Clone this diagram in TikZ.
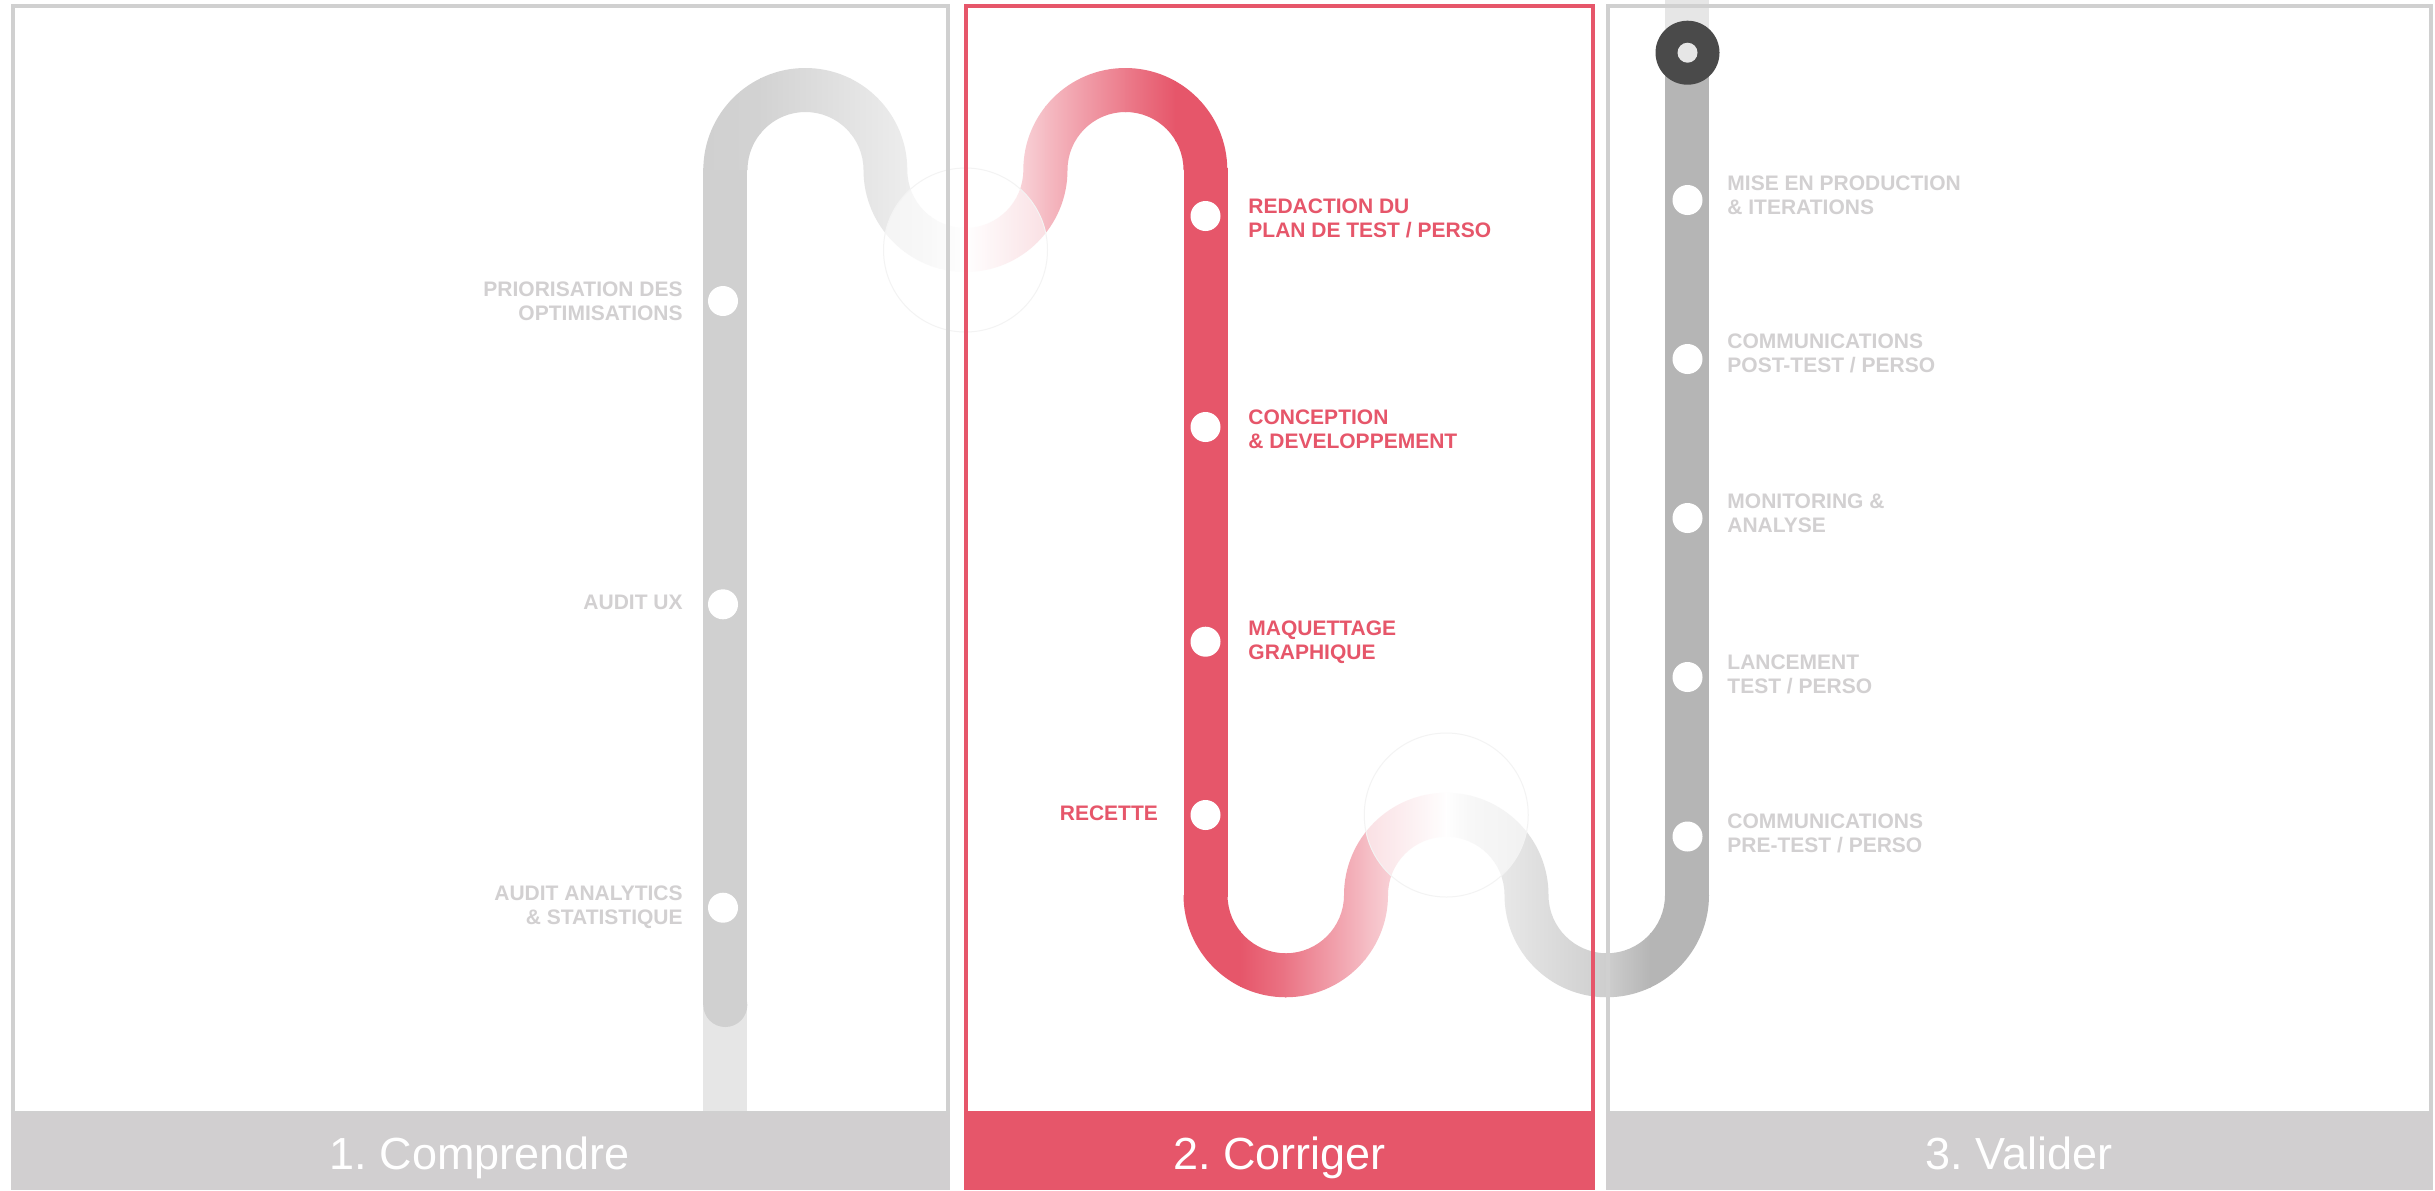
\documentclass[tikz,border=0pt]{standalone}
\usepackage{fontspec}
\setmainfont{Liberation Sans}
\frenchspacing
\definecolor{cred}{HTML}{E6566A}
\definecolor{cgray}{HTML}{D0D0D0}
\definecolor{cdark}{HTML}{B5B5B5}
\definecolor{clight}{HTML}{E6E6E6}
\definecolor{cbar}{HTML}{D1CFD0}
\definecolor{cring}{HTML}{4A4A4A}
\definecolor{clabel}{HTML}{D2D0D1}
\definecolor{cfaint}{HTML}{F3F3F3}
\begin{document}
\begin{tikzpicture}[x=0.5pt,y=0.5pt,
  dot/.style={circle,fill=white,inner sep=0pt,minimum size=15pt},
  lab/.style={inner sep=0pt,font=\fontsize{10.5}{12}\selectfont\bfseries},
  graylab/.style={lab,text=clabel},
  redlab/.style={lab,text=cred},
  bartext/.style={text=white,font=\fontsize{22.5}{27}\selectfont,anchor=base,inner sep=0pt},
  frame/.style={line width=2pt},
  overlay/.style={fill=white,fill opacity=0.55,draw=cfaint,line width=0.5pt}]
\useasboundingbox (0,0) rectangle (2435,-1190);
\fill[white] (0,0) rectangle (2435,-1190);

% ---- panel 1 straight road
\fill[clight] (703.3,-990) rectangle (747.3,-1113);
\fill[cgray] (703.3,-168) rectangle (747.3,-1005);
\fill[cgray] (725.3,-1005) circle (22);

% ---- top S route (gradient)
\path[save path=\toppath] (703.3,-170)
  arc[start angle=180,end angle=0,radius=102]
  arc[start angle=180,end angle=360,radius=58]
  arc[start angle=180,end angle=0,radius=102]
  -- (1183.5,-170)
  arc[start angle=0,end angle=180,radius=58]
  arc[start angle=360,end angle=180,radius=102]
  arc[start angle=0,end angle=180,radius=58]
  -- cycle;
\begin{scope}
  \clip[use path=\toppath];
  \shade[left color=cgray,right color=cgray!95!white] (700,-60) rectangle (761,-290);
  \shade[left color=cgray!95!white,right color=cgray!60!white] (760,-60) rectangle (851,-290);
  \shade[left color=cgray!60!white,right color=cgray!30!white] (850,-60) rectangle (931,-290);
  \shade[left color=cgray!30!white,right color=white] (930,-60) rectangle (966,-290);
  \shade[left color=white,right color=cred!17!white] (965,-60) rectangle (1001,-290);
  \shade[left color=cred!17!white,right color=cred!40!white] (1000,-60) rectangle (1046,-290);
  \shade[left color=cred!40!white,right color=cred!78!white] (1045,-60) rectangle (1126,-290);
  \shade[left color=cred!78!white,right color=cred] (1125,-60) rectangle (1176,-290);
  \fill[cred] (1175,-60) rectangle (1230,-290);
\end{scope}

% ---- red straight road
\fill[cred] (1183.5,-168) rectangle (1227.5,-897);

% ---- bottom route (gradient)
\path[save path=\botpath] (1183.5,-895)
  arc[start angle=180,end angle=360,radius=102.25]
  arc[start angle=180,end angle=0,radius=58.25]
  arc[start angle=180,end angle=360,radius=102.25]
  -- (1665,-895)
  arc[start angle=0,end angle=-180,radius=58.25]
  arc[start angle=0,end angle=180,radius=102.25]
  arc[start angle=0,end angle=-180,radius=58.25]
  -- cycle;
\begin{scope}
  \clip[use path=\botpath];
  \fill[cred] (1180,-780) rectangle (1241,-1010);
  \shade[left color=cred,right color=cred!82!white] (1240,-780) rectangle (1286,-1010);
  \shade[left color=cred!82!white,right color=cred!40!white] (1285,-780) rectangle (1366,-1010);
  \shade[left color=cred!40!white,right color=cred!14!white] (1365,-780) rectangle (1421,-1010);
  \shade[left color=cred!14!white,right color=white] (1420,-780) rectangle (1447,-1010);
  \shade[left color=white,right color=cgray!35!white] (1446,-780) rectangle (1471,-1010);
  \shade[left color=cgray!35!white,right color=cgray!62!white] (1470,-780) rectangle (1527,-1010);
  \shade[left color=cgray!62!white,right color=cgray!90!cdark] (1526,-780) rectangle (1608,-1010);
  \shade[left color=cgray!90!cdark,right color=cdark] (1607,-780) rectangle (1651,-1010);
  \fill[cdark] (1650,-780) rectangle (1712,-1010);
\end{scope}

% ---- panel 3 straight road
\fill[clight] (1665,0) rectangle (1709,-53);
\fill[cdark] (1665,-52) rectangle (1709,-897);

% ---- faint overlay circles
\path[overlay] (965.5,-250) circle (82);
\path[overlay] (1446.25,-815) circle (82);

% ---- panel frames
\draw[frame,cgray] (12.5,-5.5) rectangle (948,-1113);
\draw[frame,cred] (965.8,-5.5) rectangle (1593,-1113);
\draw[frame,cgray] (1607.5,-5.5) rectangle (2431,-1113);

% ---- bottom bars
\fill[cbar] (10.5,-1113) rectangle (950,-1190);
\fill[cred] (964,-1113) rectangle (1595,-1190);
\fill[cbar] (1605.5,-1113) rectangle (2433,-1190);
\node[bartext] (t1) at (480,-1169) {1. Comprendre};
\node[bartext] (t2) at (1279.5,-1169) {2. Corriger};
\node[bartext] (t3) at (2019,-1169) {3. Valider};

% ---- start ring
\node[circle,fill=cring,inner sep=0pt,minimum size=32pt] (ring) at (1687.5,-52.7) {};
\node[circle,fill=clight,inner sep=0pt,minimum size=10pt] (ringc) at (ring.center) {};

% ---- stations panel 1
\node[dot] (a1) at (723,-301) {};
\node[dot] (a2) at (723,-604.3) {};
\node[dot] (a3) at (723,-907.7) {};
\node[graylab,anchor=north east,align=right] (la1) at (683,-281.5) {PRIORISATION DES\\OPTIMISATIONS};
\node[graylab,anchor=north east,align=right] (la2) at (683,-595) {AUDIT UX};
\node[graylab,anchor=north east,align=right] (la3) at (683,-885) {AUDIT ANALYTICS\\\& STATISTIQUE};

% ---- stations panel 2
\node[dot] (b1) at (1205.5,-216) {};
\node[dot] (b2) at (1205.5,-427) {};
\node[dot] (b3) at (1205.5,-641.7) {};
\node[dot] (b4) at (1205.5,-815) {};
\node[redlab,anchor=north west,align=left] (lb1) at (1248,-198.3) {REDACTION DU\\PLAN DE TEST / PERSO};
\node[redlab,anchor=north west,align=left] (lb2) at (1248,-409) {CONCEPTION\\\& DEVELOPPEMENT};
\node[redlab,anchor=north west,align=left] (lb3) at (1248,-620) {MAQUETTAGE\\GRAPHIQUE};
\node[redlab,anchor=north east,align=right] (lb4) at (1158.3,-805) {RECETTE};

% ---- stations panel 3
\node[dot] (c1) at (1687.5,-200) {};
\node[dot] (c2) at (1687.5,-359) {};
\node[dot] (c3) at (1687.5,-518) {};
\node[dot] (c4) at (1687.5,-677) {};
\node[dot] (c5) at (1687.5,-836.5) {};
\node[graylab,anchor=north west,align=left] (lc1) at (1727,-175.7) {MISE EN PRODUCTION\\\& ITERATIONS};
\node[graylab,anchor=north west,align=left] (lc2) at (1727,-333.3) {COMMUNICATIONS\\POST-TEST / PERSO};
\node[graylab,anchor=north west,align=left] (lc3) at (1727,-493) {MONITORING \&\\ANALYSE};
\node[graylab,anchor=north west,align=left] (lc4) at (1727,-654.4) {LANCEMENT\\TEST / PERSO};
\node[graylab,anchor=north west,align=left] (lc5) at (1727,-813.5) {COMMUNICATIONS\\PRE-TEST / PERSO};
\end{tikzpicture}
\end{document}
